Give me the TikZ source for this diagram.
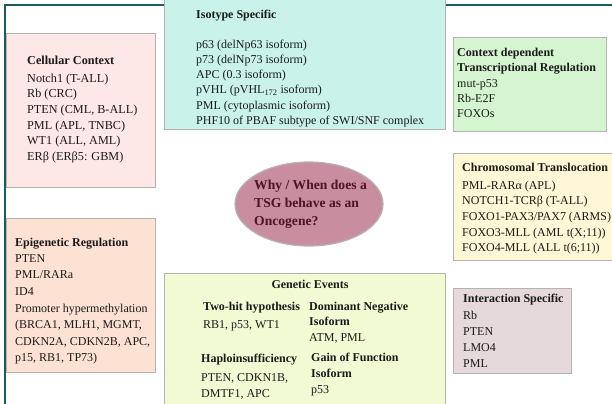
\documentclass[tikz,border=0pt]{standalone}
\usepackage{fontspec}
\setmainfont{Liberation Serif}
\usetikzlibrary{shapes.geometric}
\definecolor{framecol}{HTML}{1E5C5C}
\definecolor{bordercol}{HTML}{B4B4B4}
\definecolor{textcol}{HTML}{1A1A1A}
\definecolor{cellfill}{HTML}{FDE7E7}
\definecolor{isofill}{HTML}{C9F2EB}
\definecolor{ctxfill}{HTML}{D5F5D0}
\definecolor{chromfill}{HTML}{FFF7D5}
\definecolor{interfill}{HTML}{E6D9DB}
\definecolor{epifill}{HTML}{FDE2D3}
\definecolor{genfill}{HTML}{F1FAD3}
\definecolor{ellfill}{HTML}{C98DA0}
\definecolor{elltext}{HTML}{4B1525}
\newcommand{\myhstrut}{\rule{0pt}{10bp}}
\begin{document}
\begin{tikzpicture}[x=1bp,y=-1bp,
  panel/.style={rectangle, draw=bordercol, line width=1.2bp, inner sep=0pt, anchor=north west},
  txt/.style={anchor=north west, inner sep=0pt, align=left, text=textcol, font=\fontsize{12bp}{14bp}\selectfont},
  txtcell/.style={txt, font=\fontsize{12.2bp}{15.6bp}\selectfont},
  txtiso/.style={txt, font=\fontsize{12bp}{15.2bp}\selectfont},
  txtctx/.style={txt, font=\fontsize{12bp}{15bp}\selectfont},
  txtchrom/.style={txt, font=\fontsize{12bp}{15.6bp}\selectfont},
  txtinter/.style={txt, font=\fontsize{12bp}{16bp}\selectfont},
  txtepi/.style={txt, font=\fontsize{12bp}{16.6bp}\selectfont},
  txtc/.style={txt, font=\fontsize{12bp}{16bp}\selectfont},
  txtdom/.style={txt, font=\fontsize{12bp}{15.5bp}\selectfont},
  framestyle/.style={draw=framecol, line width=2bp}]
\useasboundingbox (0,0) rectangle (612,403);
\fill[white] (0,0) rectangle (612,403);
% frame
\coordinate (fbl) at (5,404);
\coordinate (ftl) at (5,5);
\coordinate (ftr) at (613,5);
\draw[framestyle] (fbl) -- (ftl) -- (ftr);
% Cellular Context
\node[panel, fill=cellfill, minimum width=149bp, minimum height=154bp] (cellbox) at (6,33) {};
\node[txtcell] (celltext) at (27,54) {\myhstrut\textbf{Cellular Context}\\[2.4bp]
Notch1 (T-ALL)\\Rb (CRC)\\PTEN (CML, B-ALL)\\PML (APL, TNBC)\\WT1 (ALL, AML)\\ERβ (ERβ5: GBM)};
% Isotype Specific
\node[panel, fill=isofill, minimum width=281bp, minimum height=131bp] (isobox) at (164,-2) {};
\node[txt] (isotitle) at (196,8) {\myhstrut\textbf{Isotype Specific}};
\node[txtiso] (isotext) at (196,38) {\myhstrut p63 (delNp63 isoform)\\p73 (delNp73 isoform)\\APC (0.3 isoform)\\
pVHL (pVHL\textsubscript{172} isoform)\\PML (cytoplasmic isoform)\\PHF10 of PBAF subtype of SWI/SNF complex};
% Context dependent
\node[panel, fill=ctxfill, minimum width=153bp, minimum height=94bp] (ctxbox) at (453,37) {};
\node[txtctx] (ctxtext) at (457,46) {\myhstrut\textbf{Context dependent}\\\textbf{Transcriptional Regulation}\\[1bp]
mut-p53\\Rb-E2F\\FOXOs};
% Chromosomal Translocation
\node[panel, fill=chromfill, minimum width=162bp, minimum height=107bp] (chrombox) at (453,153) {};
\node[txtchrom] (chromtext) at (462,161) {\myhstrut\textbf{Chromosomal Translocation}\\[2.4bp]
PML-RARα (APL)\\NOTCH1-TCRβ (T-ALL)\\FOXO1-PAX3/PAX7 (ARMS)\\FOXO3-MLL (AML t(X;11))\\FOXO4-MLL (ALL t(6;11))};
% Interaction Specific
\node[panel, fill=interfill, minimum width=118bp, minimum height=85bp] (interbox) at (453,288) {};
\node[txtinter] (intertext) at (463,292) {\myhstrut\textbf{Interaction Specific}\\[1bp]
Rb\\PTEN\\LMO4\\PML};
% Epigenetic Regulation
\node[panel, fill=epifill, minimum width=149bp, minimum height=154bp] (epibox) at (6,218) {};
\node[txtepi] (epitext) at (15,236) {\myhstrut\textbf{Epigenetic Regulation}\\[-0.6bp]
PTEN\\PML/RARa\\ID4\\Promoter hypermethylation\\(BRCA1, MLH1, MGMT,\\CDKN2A, CDKN2B, APC,\\p15, RB1, TP73)};
% Genetic Events
\node[panel, fill=genfill, minimum width=281bp, minimum height=140bp] (genbox) at (164,273) {};
\node[txt, anchor=north] (gentitle) at (310,278) {\myhstrut\textbf{Genetic Events}};
\node[txtc] (twohit) at (203,300) {\myhstrut\textbf{Two-hit hypothesis}\\[2bp]RB1, p53, WT1};
\node[txtdom] (domneg) at (309,300) {\myhstrut\textbf{Dominant Negative}\\\textbf{Isoform}\\ATM, PML};
\node[txtc] (haplo) at (201,352) {\myhstrut\textbf{Haploinsufficiency}\\[3bp]PTEN, CDKN1B,\\DMTF1, APC};
\node[txtc] (gof) at (311,351) {\myhstrut\textbf{Gain of Function}\\\textbf{Isoform}\\p53};
% Central ellipse
\node[ellipse, draw=bordercol, line width=1.2bp, fill=ellfill, minimum width=148bp, minimum height=84bp, inner sep=0pt] (core) at (309,204) {};
\node[anchor=north west, inner sep=0pt, align=left, text=elltext, font=\fontsize{13.6bp}{18bp}\selectfont\bfseries] (coretext) at (254,178)
{\rule{0pt}{11bp}Why / When does a\\TSG behave as an\\Oncogene?};
\end{tikzpicture}
\end{document}
